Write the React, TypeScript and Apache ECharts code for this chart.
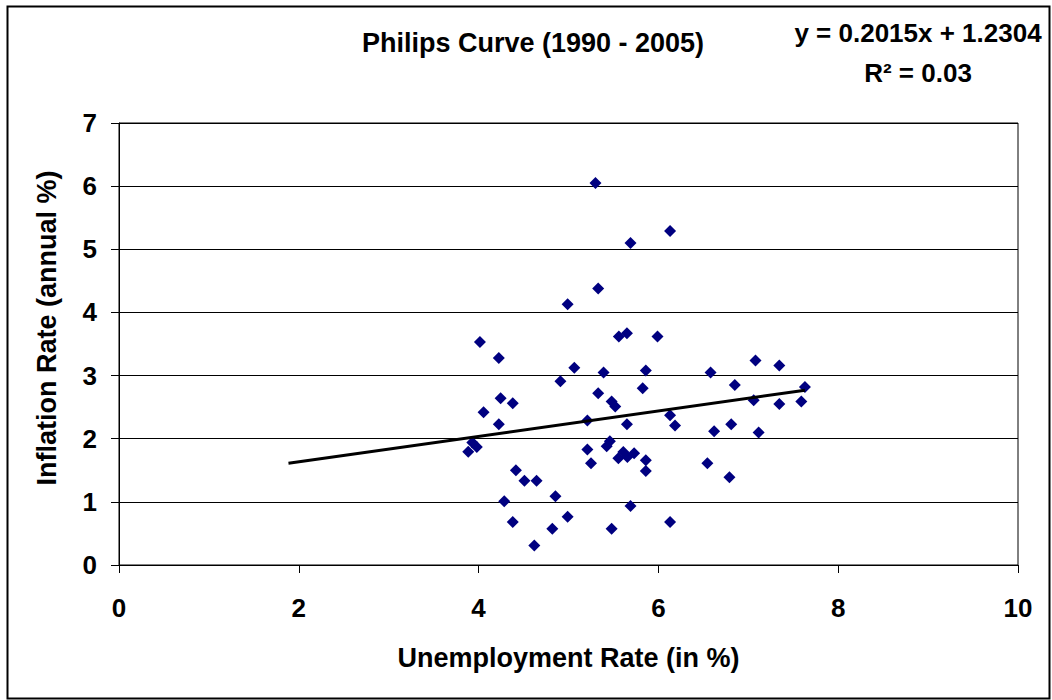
import React, { useEffect, useRef } from "react";
import * as echarts from "echarts";

const unemployment = [
  5.30, 5.69, 6.13, 5.33, 4.99, 5.56, 5.65, 5.99, 5.065, 4.91,
  5.39, 5.86, 6.58, 7.08, 7.345, 6.85, 7.63, 5.33, 5.825, 5.48,
  5.52, 7.06, 7.345, 7.59, 6.13, 5.21, 5.65, 6.185, 6.62, 6.81,
  7.115, 5.21, 5.46, 5.425, 5.61, 5.555, 5.655, 5.73, 5.86, 5.86,
  5.25, 6.545, 6.79, 4.015, 4.225, 4.245, 4.38, 4.055, 4.225, 3.93,
  3.98, 3.885, 4.415, 4.51, 4.645, 4.855, 4.285, 4.38, 4.82, 4.62,
  4.99, 5.48, 5.69, 6.13,
];
const inflation = [
  6.05, 5.10, 5.29, 4.38, 4.13, 3.62, 3.67, 3.62, 3.125, 2.91,
  3.05, 3.08, 3.05, 3.24, 3.16, 2.85, 2.82, 2.72, 2.80, 2.59,
  2.51, 2.61, 2.55, 2.59, 2.37, 2.29, 2.23, 2.21, 2.12, 2.23,
  2.10, 1.83, 1.96, 1.88, 1.79, 1.69, 1.71, 1.77, 1.66, 1.49,
  1.61, 1.61, 1.39, 3.53, 3.28, 2.64, 2.56, 2.42, 2.23, 1.94,
  1.87, 1.795, 1.50, 1.335, 1.335, 1.09, 1.01, 0.68, 0.575, 0.31,
  0.765, 0.575, 0.935, 0.68,
];

// Linear trendline (as printed on the chart), with a backward forecast of 2
const trendSlope = 0.2015;
const trendIntercept = 1.2304;
const trendBackward = 2;
const rSquared = "0.03";

const xTicks = { min: 0, max: 10, interval: 2 };
const yTicks = { min: 0, max: 7, interval: 1 };

const titleText = "Philips Curve (1990 - 2005)";
const xTitle = "Unemployment Rate (in %)";
const yTitle = "Inflation Rate (annual %)";

const FONT = "'Liberation Sans', Arial, Helvetica, sans-serif";

export default function App() {
  const ref = useRef<HTMLDivElement>(null);

  useEffect(() => {
    if (!ref.current) return;
    const chart = echarts.init(ref.current, undefined, { renderer: "svg" });

    const points = unemployment.map((x, i) => [x, inflation[i]]);
    const xStart = Math.min(...unemployment) - trendBackward;
    const xEnd = Math.max(...unemployment);
    const trend = [
      [xStart, trendSlope * xStart + trendIntercept],
      [xEnd, trendSlope * xEnd + trendIntercept],
    ];
    const eq = `y = ${trendSlope}x + ${trendIntercept}`;

    const labelStyle = {
      color: "#000",
      fontFamily: FONT,
      fontWeight: "bold" as const,
      fontSize: 26,
    };

    chart.setOption({
      animation: false,
      backgroundColor: "#fff",
      title: {
        text: titleText,
        left: 533,
        top: 29,
        textAlign: "center",
        padding: 0,
        textStyle: { ...labelStyle, fontSize: 27 },
      },
      grid: {
        left: 119,
        right: 34,
        top: 123,
        bottom: 135,
        show: true,
        borderColor: "#000",
        borderWidth: 1,
        backgroundColor: "transparent",
        containLabel: false,
        outerBoundsMode: "none",
      },
      xAxis: {
        type: "value",
        min: xTicks.min,
        max: xTicks.max,
        interval: xTicks.interval,
        name: xTitle,
        nameLocation: "middle",
        nameGap: 79,
        nameTextStyle: { ...labelStyle, fontSize: 27 },
        axisLine: { show: true, lineStyle: { color: "#000", width: 1 } },
        axisTick: { show: true, inside: false, length: 8, lineStyle: { color: "#000" } },
        axisLabel: { ...labelStyle, margin: 30 },
        splitLine: { show: false },
      },
      yAxis: {
        type: "value",
        min: yTicks.min,
        max: yTicks.max,
        interval: yTicks.interval,
        name: yTitle,
        nameLocation: "middle",
        nameRotate: 90,
        nameGap: 59,
        nameTextStyle: { ...labelStyle, fontSize: 27, padding: [0, 0, 0, 32] },
        axisLine: { show: true, lineStyle: { color: "#000", width: 1 } },
        axisTick: { show: true, inside: false, length: 8, lineStyle: { color: "#000" } },
        axisLabel: { ...labelStyle, margin: 22 },
        splitLine: { show: true, lineStyle: { color: "#000", width: 1 } },
      },
      graphic: [
        {
          type: "rect",
          left: 5,
          top: 4,
          shape: { width: 1042, height: 692 },
          style: { fill: "none", stroke: "#000", lineWidth: 2 },
          silent: true,
          z: 100,
        },
        {
          type: "text",
          x: 918,
          y: 33,
          style: {
            text: eq,
            font: `bold 26px ${FONT}`,
            fill: "#000",
            align: "center",
            verticalAlign: "middle",
          },
        },
        {
          type: "text",
          x: 918,
          y: 73,
          style: {
            text: `R² = ${rSquared}`,
            font: `bold 26px ${FONT}`,
            fill: "#000",
            align: "center",
            verticalAlign: "middle",
          },
        },
      ],
      series: [
        {
          type: "scatter",
          data: points,
          symbol: "diamond",
          symbolSize: 12,
          itemStyle: { color: "#000080", opacity: 1 },
          z: 3,
        },
        {
          type: "line",
          data: trend,
          showSymbol: false,
          symbol: "none",
          lineStyle: { color: "#000", width: 3 },
          z: 4,
        },
      ],
    });

    return () => chart.dispose();
  }, []);

  return (
    <div
      ref={ref}
      style={{ position: "absolute", left: 0, top: 0, width: 1052, height: 700 }}
    />
  );
}
